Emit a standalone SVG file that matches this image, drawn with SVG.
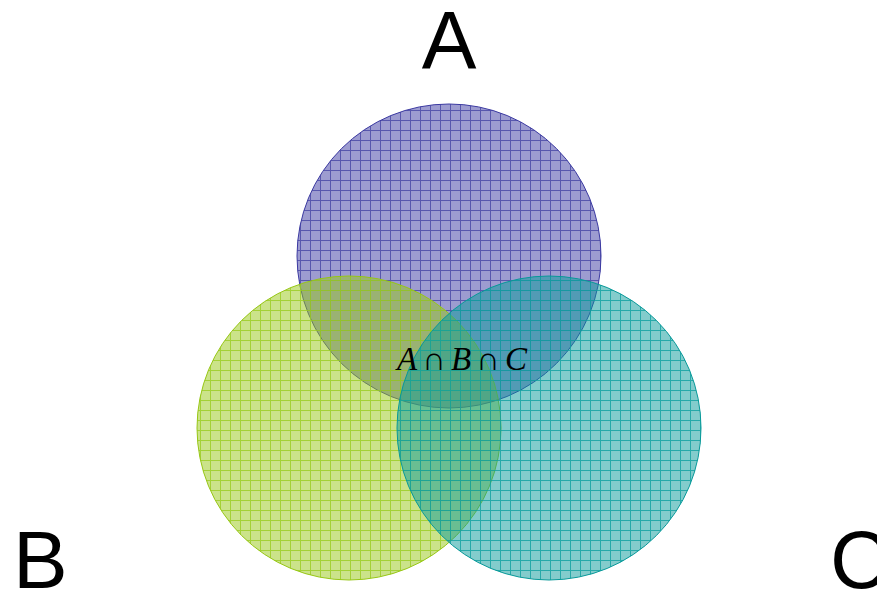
<svg xmlns="http://www.w3.org/2000/svg" width="877" height="592" viewBox="0 0 877 592">
<style>
.big{font-family:"Liberation Sans",Arial,sans-serif;font-size:82px;fill:#000}
.math{font-family:"Liberation Serif","Times New Roman",serif;font-style:italic;font-size:33px;fill:#000}
.op{font-style:normal}
</style>
<defs>
<pattern id="hA" patternUnits="userSpaceOnUse" width="10" height="10">
<path d="M0 0.5H10M0.5 0V10" stroke="#3a3a9e" stroke-width="1" opacity="0.7"/>
</pattern>
<pattern id="hB" patternUnits="userSpaceOnUse" width="10" height="10">
<path d="M0 0.5H10M0.5 0V10" stroke="#9acd20" stroke-width="1" opacity="0.8"/>
</pattern>
<pattern id="hC" patternUnits="userSpaceOnUse" width="10" height="10">
<path d="M0 0.5H10M0.5 0V10" stroke="#10a0a0" stroke-width="1" opacity="0.8"/>
</pattern>
</defs>
<rect width="877" height="592" fill="#fff"/>
<g id="nodeA">
<circle cx="449" cy="256" r="152" fill="#3b39a1" fill-opacity="0.5"/>
<circle cx="449" cy="256" r="152" fill="url(#hA)" stroke="#3b39a1" stroke-width="1"/>
</g>
<g id="nodeB">
<circle cx="349" cy="428" r="152" fill="#97c715" fill-opacity="0.5"/>
<circle cx="349" cy="428" r="152" fill="url(#hB)" stroke="#97c715" stroke-width="1"/>
</g>
<g id="nodeC">
<circle cx="549" cy="428" r="152" fill="#079999" fill-opacity="0.5"/>
<circle cx="549" cy="428" r="152" fill="url(#hC)" stroke="#079999" stroke-width="1"/>
</g>
<g id="labels">
<text class="big" x="449" y="68" text-anchor="middle">A</text>
<text class="big" x="13" y="588">B</text>
<text class="big" x="830" y="588">C</text>
<text class="math" x="397" y="370">A<tspan class="op" dx="5">∩</tspan><tspan dx="5">B</tspan><tspan class="op" dx="5">∩</tspan><tspan dx="5">C</tspan></text>
</g>
</svg>
